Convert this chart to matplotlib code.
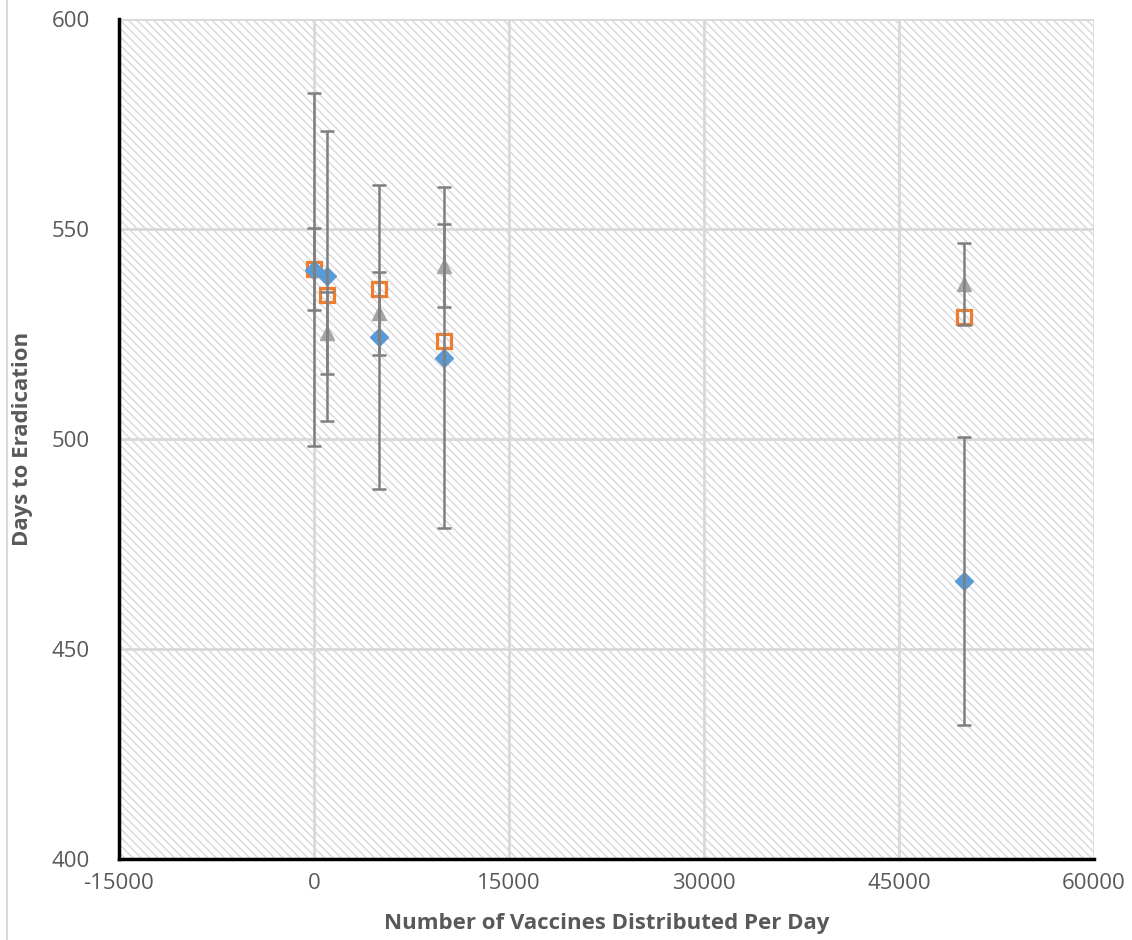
import matplotlib.pyplot as plt
import matplotlib.patches as mpatches
from matplotlib.lines import Line2D

plt.rcParams['font.family'] = ['Open Sans', 'DejaVu Sans']
plt.rcParams['axes.unicode_minus'] = False
plt.rcParams['hatch.linewidth'] = 1.1

# vaccines per day
vaccines = [0, 1000, 5000, 10000, 50000]

# three series (days to eradication)
days_diamond = [540.3, 538.9, 524.3, 519.3, 466.2]
err_diamond = [42.0, 34.5, 36.2, 40.6, 34.3]
days_square = [540.5, 534.3, 535.7, 523.4, 529.0]
days_triangle = [540.5, 525.2, 529.9, 541.3, 536.9]
err_triangle = [9.8, 9.8, 9.8, 9.8, 9.8]

xticks = [-15000, 0, 15000, 30000, 45000, 60000]
yticks = [400, 450, 500, 550, 600]

label_col = '#595959'
err_col = '#7f7f7f'

fig = plt.figure(figsize=(11.32, 9.40), dpi=100)
ax = fig.add_axes([119/1132, 81/940, 975/1132, 840/940])

# hatched plot area
ax.add_patch(mpatches.Rectangle((0, 0), 1, 1, transform=ax.transAxes,
                                facecolor='white', edgecolor='#dadada',
                                hatch='\\\\\\\\', linewidth=0, zorder=0))

# markers
ax.plot(vaccines, days_triangle, '^', color='#a5a5a5', markersize=10, zorder=3)
ax.plot(vaccines, days_square, 's', markersize=10.5, markerfacecolor='none',
        markeredgecolor='#ed7d31', markeredgewidth=2.3, zorder=4)
ax.plot(vaccines, days_diamond, 'D', color='#5b9bd5', markersize=9.5, zorder=5)

# error bars drawn over the markers
ax.errorbar(vaccines, days_triangle, yerr=err_triangle, fmt='none', ecolor=err_col,
            elinewidth=1.8, capsize=5, capthick=1.8, zorder=6)
ax.errorbar(vaccines, days_diamond, yerr=err_diamond, fmt='none', ecolor=err_col,
            elinewidth=1.8, capsize=5, capthick=1.8, zorder=6)

ax.set_xlim(-15000, 60000)
ax.set_ylim(400, 600)
ax.set_xticks(xticks)
ax.set_yticks(yticks)
ax.grid(True, color='#d9d9d9', linewidth=2, zorder=1)
ax.set_axisbelow(True)

for s in ['top', 'right']:
    ax.spines[s].set_visible(False)
for s in ['left', 'bottom']:
    ax.spines[s].set_linewidth(2.5)
    ax.spines[s].set_color('black')
    ax.spines[s].set_zorder(7)

ax.tick_params(length=0, labelsize=16, labelcolor=label_col)
ax.tick_params(axis='x', pad=10)
ax.tick_params(axis='y', pad=21)

ax.set_xlabel('Number of Vaccines Distributed Per Day', fontsize=16, fontweight='bold',
              color=label_col)
ax.set_ylabel('Days to Eradication', fontsize=16, fontweight='bold',
              color=label_col)
ax.xaxis.set_label_coords(0.5, -0.064)
ax.yaxis.set_label_coords(-0.088, 0.5)

# chart border at left
fig.add_artist(Line2D([7/1132, 7/1132], [0, 1], color='#d9d9d9', linewidth=1.5))

fig.savefig('out.png', dpi=100)
